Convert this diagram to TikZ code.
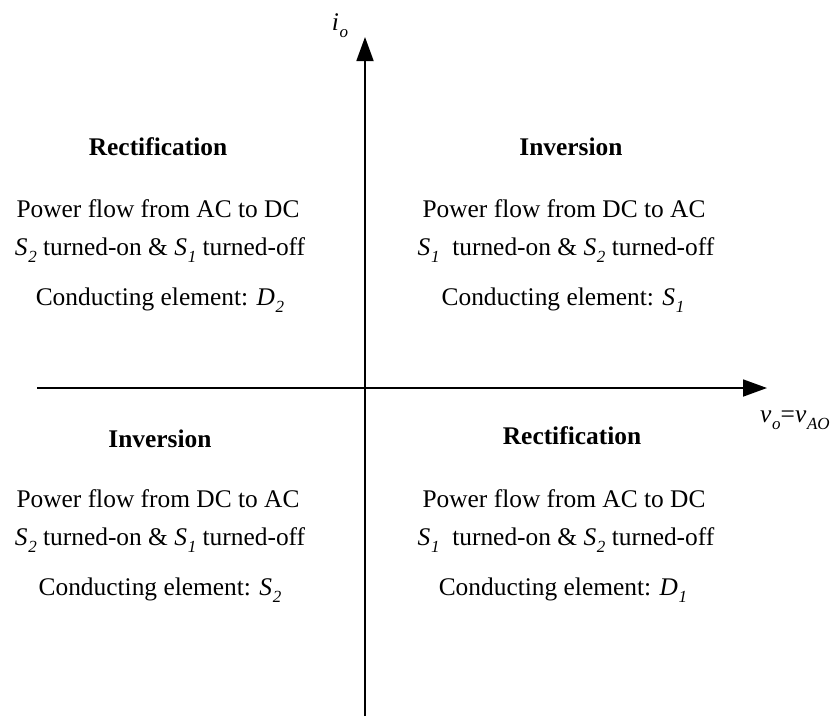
\documentclass[tikz,border=0pt]{standalone}
\usepackage{fontspec}
\setmainfont{Liberation Serif}
\usetikzlibrary{arrows.meta}
\newcommand\Sb[2]{\textit{#1}\kern0.03em\raisebox{-0.3em}{\fontsize{17}{17}\selectfont\textit{#2}}}
\begin{document}
\begin{tikzpicture}[x=1pt,y=-1pt,
  txt/.style={anchor=base,inner sep=0pt,font=\fontsize{25.4}{30}\selectfont},
  ttl/.style={anchor=base,inner sep=0pt,font=\fontsize{25.4}{30}\selectfont\bfseries},
  axis/.style={line width=1.8pt,-{Triangle[length=24pt,width=17pt]}}]
\useasboundingbox (0,0) rectangle (839,716);
\coordinate (xl) at (37,388);
\coordinate (xr) at (767,388);
\coordinate (yb) at (365,716);
\coordinate (yt) at (365,37);
\draw[axis] (xl) -- (xr);
\draw[axis] (yb) -- (yt);
\node[txt,anchor=base] (io) at (340,30) {\Sb{i}{o}};
\node[txt,anchor=base west] (vo) at (760,422) {\Sb{v}{o}=\Sb{v}{AO}};
% top left
\node[ttl] (t1) at (158,155) {Rectification};
\node[txt] (a1) at (158,217) {Power flow from AC to DC};
\node[txt] (b1) at (160,255) {\Sb{S}{2} turned-on \& \Sb{S}{1} turned-off};
\node[txt] (c1) at (160,305) {Conducting element: \Sb{D}{2}};
% top right
\node[ttl] (t2) at (571,155) {Inversion};
\node[txt] (a2) at (564,217) {Power flow from DC to AC};
\node[txt] (b2) at (566,255) {\Sb{S}{1}\ \ turned-on \& \Sb{S}{2} turned-off};
\node[txt] (c2) at (563,305) {Conducting element: \Sb{S}{1}};
% bottom left
\node[ttl] (t3) at (160,447) {Inversion};
\node[txt] (a3) at (158,507) {Power flow from DC to AC};
\node[txt] (b3) at (160,545) {\Sb{S}{2} turned-on \& \Sb{S}{1} turned-off};
\node[txt] (c3) at (160,595) {Conducting element: \Sb{S}{2}};
% bottom right
\node[ttl] (t4) at (572,444) {Rectification};
\node[txt] (a4) at (564,507) {Power flow from AC to DC};
\node[txt] (b4) at (566,545) {\Sb{S}{1}\ \ turned-on \& \Sb{S}{2} turned-off};
\node[txt] (c4) at (563,595) {Conducting element: \Sb{D}{1}};
\end{tikzpicture}
\end{document}
